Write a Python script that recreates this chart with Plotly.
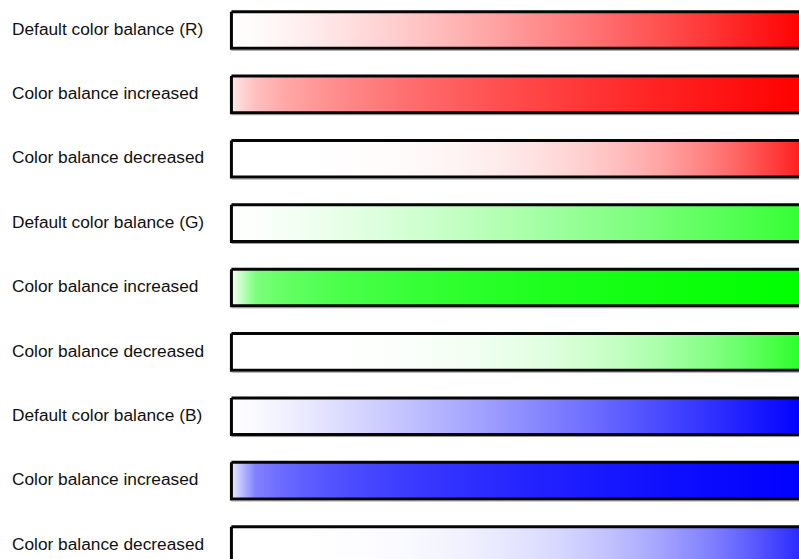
import plotly.graph_objects as go

# ---- data ----
labels = [
    "Default color balance (R)",
    "Color balance increased",
    "Color balance decreased",
    "Default color balance (G)",
    "Color balance increased",
    "Color balance decreased",
    "Default color balance (B)",
    "Color balance increased",
    "Color balance decreased",
]
bar_values = [1, 1, 1, 1, 1, 1, 1, 1, 1]   # each bar spans the full scale
channels = ["R", "R", "R", "G", "G", "G", "B", "B", "B"]

# ---- styles (gradient shape per bar) ----
base_rgb = {"R": (255, 0, 0), "G": (0, 255, 0), "B": (0, 0, 255)}
grad_gamma = [1.3, 0.56, 3.2, 1.3, 0.22, 3.2, 1.2, 0.25, 3.0]
grad_start = [0.0, 0.10, 0.0, 0.0, 0.03, 0.0, 0.0, 0.08, 0.0]
grad_end = [1.0, 1.0, 0.9, 0.8, 1.0, 0.85, 1.0, 1.0, 0.85]
BAR_H = 0.285


def colorscale(ch, g, s, e):
    r0, g0, b0 = base_rgb[ch]
    stops = []
    n = 24
    for k in range(n + 1):
        t = k / n
        f = s + (t ** g) * (e - s)
        r = round(255 * (1 - f) + r0 * f)
        gg = round(255 * (1 - f) + g0 * f)
        b = round(255 * (1 - f) + b0 * f)
        stops.append([t, f"rgb({r},{gg},{b})"])
    return stops


fig = go.Figure()
for i, (lab, v, ch) in enumerate(zip(labels, bar_values, channels)):
    y0, y1 = i - BAR_H, i + BAR_H
    fig.add_trace(go.Scatter(
        x=[0, v, v, 0, 0],
        y=[y0, y0, y1, y1, y0],
        mode="lines",
        fill="toself",
        line=dict(color="#050505", width=3),
        fillgradient=dict(type="horizontal",
                          colorscale=colorscale(ch, grad_gamma[i], grad_start[i], grad_end[i]),
                          start=0, stop=v),
        hoverinfo="skip",
        showlegend=False,
    ))
    # soft grey shadow under the bar
    fig.add_trace(go.Scatter(
        x=[0, v], y=[y1 + 0.03, y1 + 0.03], mode="lines",
        line=dict(color="rgba(120,120,120,0.8)", width=1),
        hoverinfo="skip", showlegend=False,
    ))
    fig.add_annotation(
        x=0.0125, xref="paper", y=i - 0.02, yref="y", text=lab,
        showarrow=False, xanchor="left", yanchor="middle",
        font=dict(family="Liberation Sans, Arial, sans-serif", size=17.3, color="#111111"),
    )

fig.update_layout(
    width=799, height=559,
    margin=dict(l=0, r=0, t=0, b=0),
    paper_bgcolor="white", plot_bgcolor="white",
    xaxis=dict(range=[-0.4046, 0.9923], visible=False, showgrid=False, zeroline=False),
    yaxis=dict(range=[8.217, -0.466], visible=False, showgrid=False, zeroline=False),
)

fig.write_html("out.html", config={"displayModeBar": False},
               post_script="document.body.style.margin='0';")
